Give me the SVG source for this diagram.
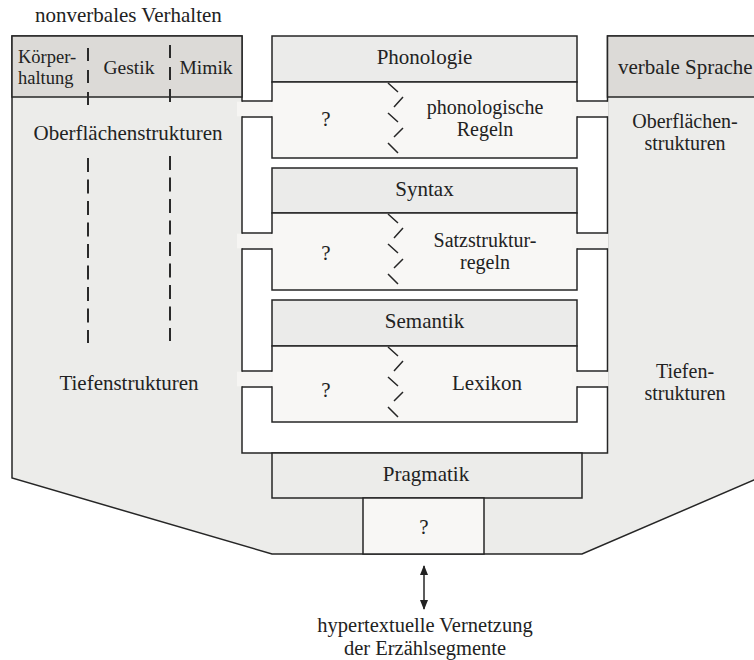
<svg xmlns="http://www.w3.org/2000/svg" width="754" height="660" viewBox="0 0 754 660">
  <style>
    text { font-family: "Liberation Serif", "Times New Roman", serif; font-size: 21px; fill: #222; }
    .c { text-anchor: middle; }
    .sm { font-size: 19.5px; }
    .two { font-size: 20px; }
    .xs { font-size: 18.5px; }
    .ln { stroke: #262626; stroke-width: 1.5; fill: none; }
    .area { fill: #ececea; stroke: #262626; stroke-width: 1.5; }
    .head { fill: #dcdad7; stroke: #262626; stroke-width: 1.5; }
    .mhead { fill: #ebebea; stroke: #262626; stroke-width: 1.5; }
    .mbody { fill: #f8f7f5; stroke: #262626; stroke-width: 1.5; }
    .bar { fill: #f6f5f3; stroke: none; }
    .dash { stroke: #2a2a2a; stroke-width: 2; fill: none; }
    .zig { stroke: #262626; stroke-width: 1.5; fill: none; }
  </style>
  <defs>
    <marker id="tip" viewBox="0 0 10 10" refX="9" refY="5" markerWidth="10" markerHeight="10" markerUnits="userSpaceOnUse" orient="auto-start-reverse">
      <path d="M0,1 L10,5 L0,9 Z" fill="#222"/>
    </marker>
    <!-- zigzag separator inside a module body, relative to the body top -->
    <g id="zigzag">
      <path class="zig" d="M388,1 L398,10 M403,15 L394,25 M388,31 L398,40 M403,46 L394,55 M388,61 L398,71"/>
    </g>
  </defs>

  <rect width="754" height="660" fill="#fff"/>

  <text x="35" y="22">nonverbales Verhalten</text>

  <!-- surrounding area with open channel in the middle -->
  <g id="area">
    <path class="area" d="M242,36 V453 H607.5 V36 H800 V460 L754,480 L582,554 H272 L12,478 V36 Z"/>
    <rect class="head" x="12" y="36" width="230" height="61"/>
    <rect class="head" x="607.5" y="36" width="200" height="61"/>
  </g>

  <!-- nonverbal side -->
  <g id="nonverbal">
    <text class="xs" x="18" y="63">Körper-</text>
    <text class="xs" x="18" y="83.5">haltung</text>
    <text class="sm c" x="129" y="74">Gestik</text>
    <text class="sm c" x="206" y="74">Mimik</text>
    <text class="c" x="128" y="140">Oberflächenstrukturen</text>
    <text class="c" x="129" y="390">Tiefenstrukturen</text>
    <path class="dash" d="M88,48 V106 M170,45 V106" stroke-dasharray="13 9"/>
    <path class="dash" d="M88,158 V343" stroke-dasharray="14 7.5"/>
    <path class="dash" d="M170,155 V341" stroke-dasharray="14 7.5" stroke-dashoffset="-1"/>
  </g>

  <!-- verbal side -->
  <g id="verbal">
    <text x="618" y="74">verbale Sprache</text>
    <text class="c two" x="685" y="128">Oberflächen-</text>
    <text class="c two" x="685" y="150">strukturen</text>
    <text class="c two" x="685" y="378">Tiefen-</text>
    <text class="c two" x="685" y="400">strukturen</text>
  </g>

  <!-- Phonologie -->
  <g id="phonologie">
    <rect class="mhead" x="272" y="36" width="305" height="46"/>
    <rect class="mbody" x="272" y="82" width="305" height="76"/>
    <text class="c" x="424.5" y="64">Phonologie</text>
    <text class="c" x="326" y="126">?</text>
    <use href="#zigzag" y="82"/>
    <text class="c two" x="485" y="114">phonologische</text>
    <text class="c two" x="485" y="136">Regeln</text>
  </g>

  <!-- Syntax -->
  <g id="syntax">
    <rect class="mhead" x="272" y="168" width="305" height="45"/>
    <rect class="mbody" x="272" y="213" width="305" height="77"/>
    <text class="c" x="424.5" y="196">Syntax</text>
    <text class="c" x="326" y="260">?</text>
    <use href="#zigzag" y="213"/>
    <text class="c two" x="485" y="247">Satzstruktur-</text>
    <text class="c two" x="485" y="269">regeln</text>
  </g>

  <!-- Semantik -->
  <g id="semantik">
    <rect class="mhead" x="272" y="300" width="305" height="46"/>
    <rect class="mbody" x="272" y="346" width="305" height="76"/>
    <text class="c" x="424.5" y="328">Semantik</text>
    <text class="c" x="326" y="397">?</text>
    <use href="#zigzag" y="346"/>
    <text class="c" x="487" y="390">Lexikon</text>
  </g>

  <!-- Pragmatik -->
  <g id="pragmatik">
    <rect class="area" x="272" y="453" width="310" height="45"/>
    <rect class="mbody" x="363" y="498" width="121" height="56"/>
    <text class="c" x="426" y="481">Pragmatik</text>
    <text class="c" x="424" y="534">?</text>
  </g>

  <!-- channels between the side areas and the module bodies -->
  <g id="connectors">
    <rect class="bar" x="237" y="101.75" width="36" height="14.5"/>
    <rect class="bar" x="572" y="101.75" width="36.5" height="14.5"/>
    <rect class="bar" x="237" y="233.75" width="36" height="14.5"/>
    <rect class="bar" x="572" y="233.75" width="36.5" height="14.5"/>
    <rect class="bar" x="237" y="371.75" width="36" height="14.5"/>
    <rect class="bar" x="572" y="371.75" width="36.5" height="14.5"/>
    <path class="ln" d="M242,101 H272 M242,117 H272 M577,101 H607.5 M577,117 H607.5
                       M242,233 H272 M242,249 H272 M577,233 H607.5 M577,249 H607.5
                       M242,371 H272 M242,387 H272 M577,371 H607.5 M577,387 H607.5"/>
    <line class="ln" x1="424" y1="566" x2="424" y2="609" stroke-width="2" marker-start="url(#tip)" marker-end="url(#tip)"/>
  </g>

  <text class="c" x="425" y="632" style="font-size:20.5px">hypertextuelle Vernetzung</text>
  <text class="c" x="425" y="655" style="font-size:20.5px">der Erzählsegmente</text>
</svg>
